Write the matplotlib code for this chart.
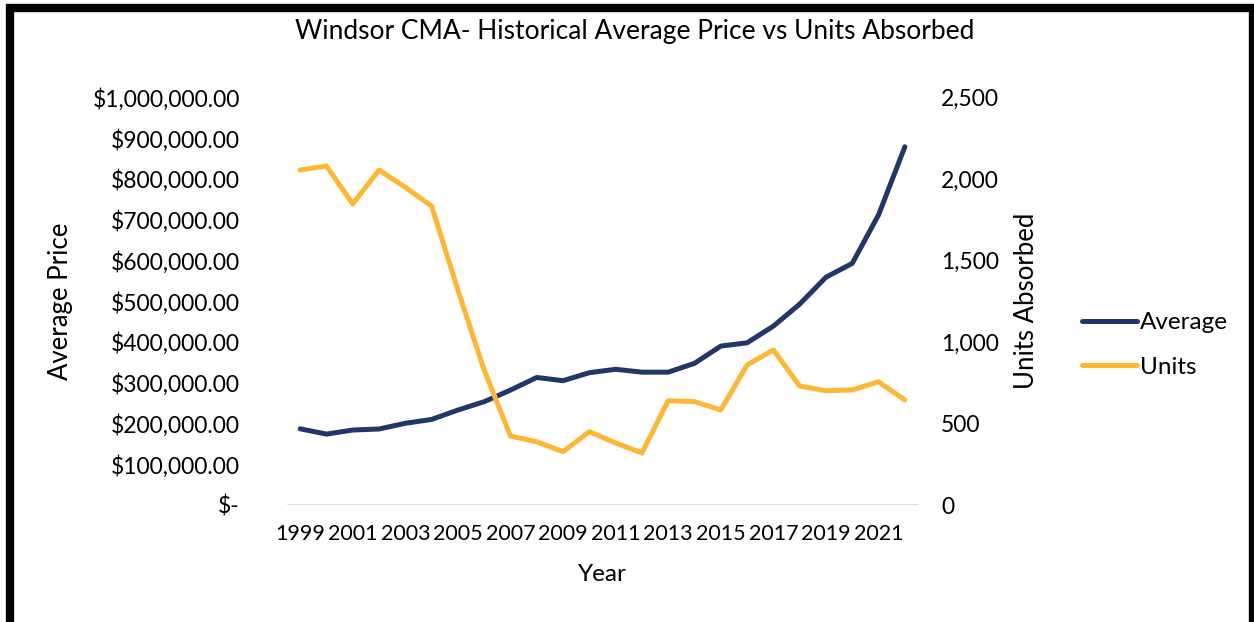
import matplotlib
matplotlib.use('Agg')
from matplotlib import pyplot as plt
from matplotlib.patches import Rectangle
from matplotlib.ticker import FuncFormatter
from matplotlib.lines import Line2D

plt.rcParams['font.family'] = ['Lato', 'DejaVu Sans']

# Datos
years = list(range(1999, 2023))
average_price = [187000, 174000, 184000, 186500, 200500, 210000, 233000, 253500,
                 282000, 313000, 305000, 324700, 333000, 326000, 326000, 347700,
                 390000, 398000, 439000, 493000, 559000, 593000, 712000, 879000]
units_absorbed = [2055, 2080, 1847, 2055, 1949, 1834, 1319, 828,
                  423, 388, 327, 450, 380, 319, 640, 634,
                  583, 859, 951, 730, 701, 706, 756, 644]
year_ticks = list(range(1999, 2022, 2))
price_ticks = list(range(0, 1000001, 100000))
unit_ticks = list(range(0, 2501, 500))

navy = '#213669'
gold = '#FDB735'
W, H = 1254, 622

fig = plt.figure(figsize=(W / 100, H / 100), dpi=100)
ax = fig.add_axes([287 / W, 1 - 505 / H, (918 - 287) / W, (505 - 97.5) / H])
ax2 = ax.twinx()

ax.plot(years, average_price, color=navy, lw=3.6, solid_capstyle='round', solid_joinstyle='round', zorder=3)
ax2.plot(years, units_absorbed, color=gold, lw=3.6, solid_capstyle='round', solid_joinstyle='round', zorder=3)

ax.set_xlim(1998.5, 2022.5)
ax.set_ylim(0, 1000000)
ax2.set_ylim(0, 2500)
ax.set_xticks(year_ticks)
ax.set_yticks(price_ticks)
ax2.set_yticks(unit_ticks)

def money(v, pos):
    return '$-' if v == 0 else '${:,.2f}'.format(v)

ax.yaxis.set_major_formatter(FuncFormatter(money))
ax2.yaxis.set_major_formatter(FuncFormatter(lambda v, p: '{:,.0f}'.format(v)))

for a in (ax, ax2):
    for s in a.spines.values():
        s.set_visible(False)
    a.tick_params(length=0, labelsize=16.5)
ax.tick_params(axis='y', pad=34)
ax.tick_params(axis='x', pad=14, labelsize=15.5)
ax2.tick_params(axis='y', pad=16.5)
ax.axhline(0, color='#D9D9D9', lw=1.2, zorder=1)

ax.set_xlabel('Year', fontsize=17.5, labelpad=14)
ax.set_ylabel('Average Price', fontsize=18.5, labelpad=14)
ax2.set_ylabel('Units Absorbed', fontsize=18.5, labelpad=11)
fig.text(635 / W, 1 - 32 / H, 'Windsor CMA- Historical Average Price vs Units Absorbed',
         ha='center', va='center', fontsize=19)

handles = [Line2D([], [], color=navy, lw=3.6, solid_capstyle='round'),
           Line2D([], [], color=gold, lw=3.6, solid_capstyle='round')]
fig.legend(handles, ['Average', 'Units'], loc='center left', bbox_to_anchor=(1060 / W, 1 - 345 / H),
           frameon=False, fontsize=17.5, handlelength=2.26, handletextpad=0.12, labelspacing=0.97)

# Marco negro alrededor de la figura
fig.patches.append(Rectangle((10 / W, 1 - 623 / H), (1253 - 10) / W, (623 - 7.5) / H,
                             transform=fig.transFigure, fill=False, ec='black', lw=6))

fig.savefig('out.png', dpi=100)
